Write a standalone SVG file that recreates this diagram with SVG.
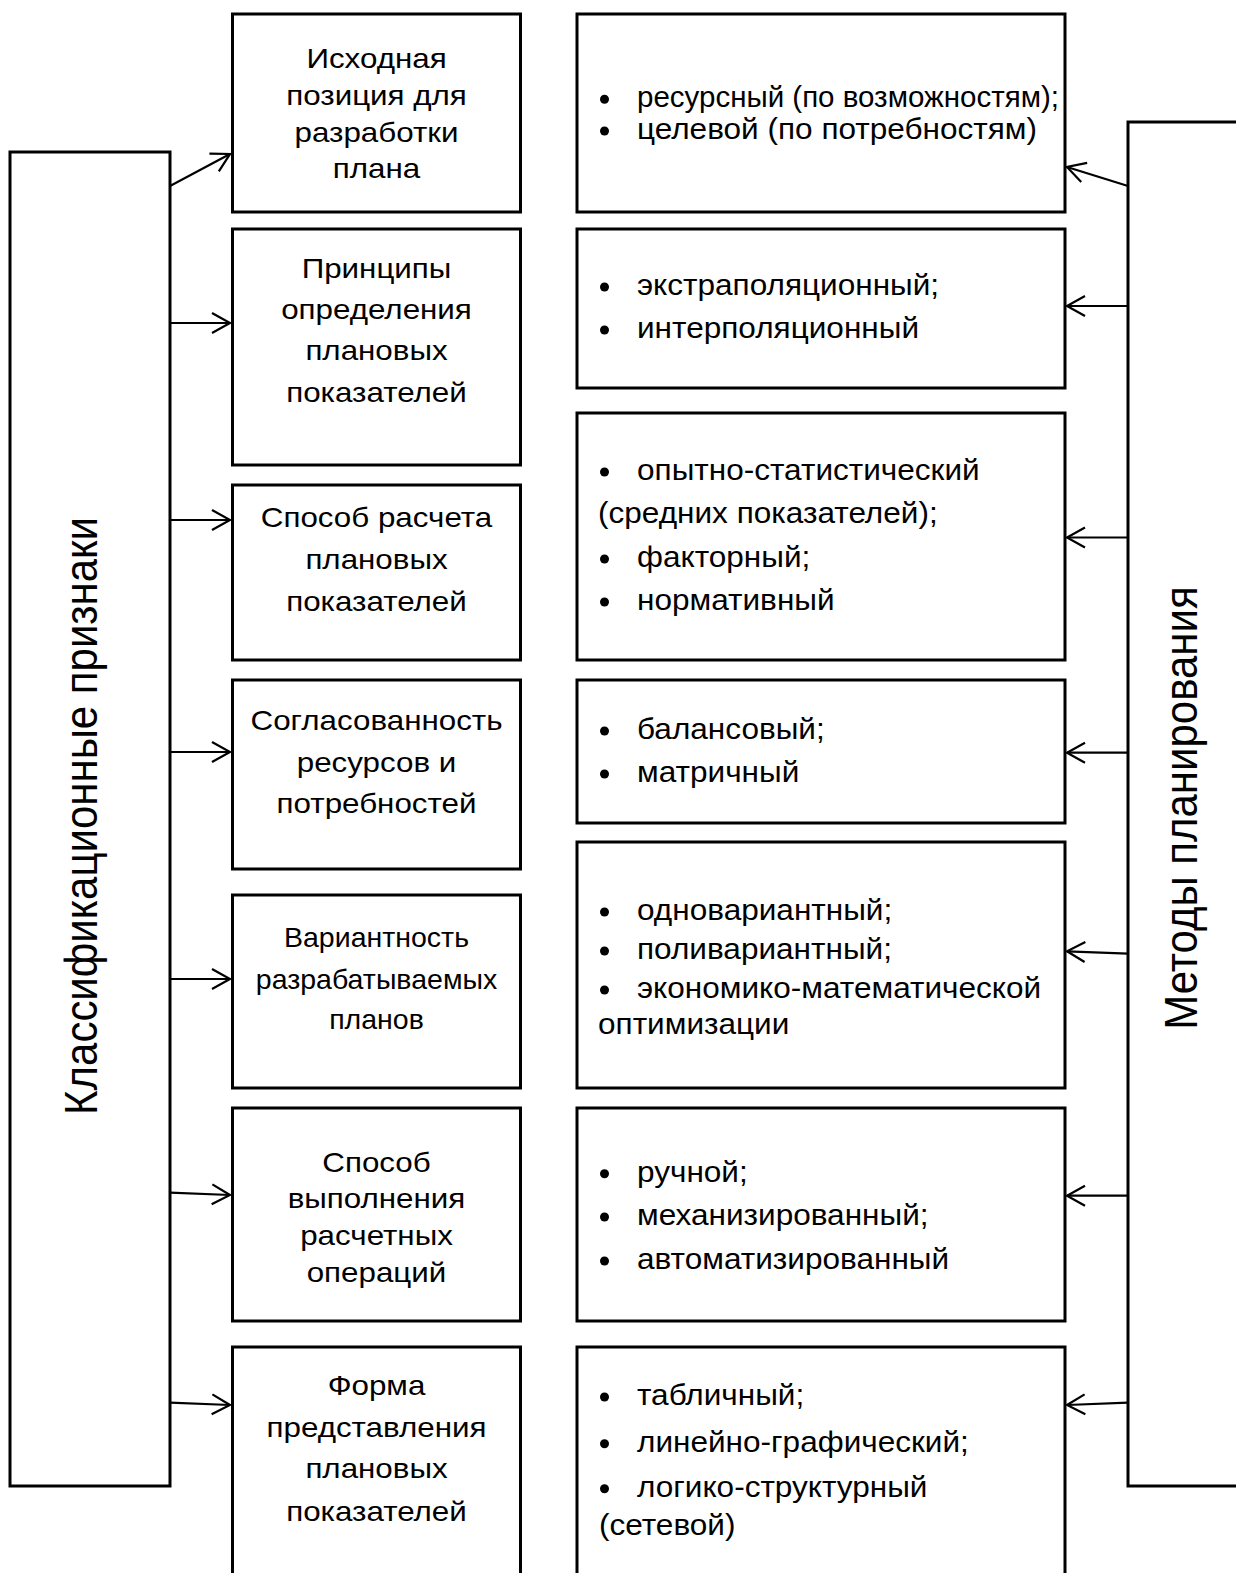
<svg xmlns="http://www.w3.org/2000/svg" width="1236" height="1573" viewBox="0 0 1236 1573">
<style>
.box{fill:#fff;stroke:#000;stroke-width:3}
.l{font-family:"Liberation Sans",Arial,sans-serif;font-size:28.5px;text-anchor:middle;fill:#000}
.r{font-family:"Liberation Sans",Arial,sans-serif;font-size:29.5px;fill:#000}
.dot{fill:#000}
.v{font-family:"Liberation Sans",Arial,sans-serif;font-size:42px;text-anchor:middle;fill:#000}
.c{fill:none;stroke:#000;stroke-width:2.2}
</style>
<defs>
<marker id="ah" markerUnits="userSpaceOnUse" markerWidth="30" markerHeight="30" refX="20" refY="12" orient="auto">
<path d="M2,2 L20,12 L2,22" fill="none" stroke="#000" stroke-width="2.2"/>
</marker>
</defs>
<rect width="1236" height="1573" fill="#fff"/>

<g id="classification">
<rect class="box" x="10" y="152" width="160" height="1334"/>
<text class="v" transform="translate(97,816) scale(1.1,1) rotate(-90)">Классификационные признаки</text>
</g>
<g id="methods">
<rect class="box" x="1128" y="122" width="130" height="1364"/>
<text class="v" transform="translate(1197,808) scale(1.1,1) rotate(-90)">Методы планирования</text>
</g>

<g id="l1">
<rect class="box" x="232.5" y="14" width="288" height="198"/>
<text class="l" transform="translate(376.5,68) scale(1.1,1)">Исходная</text>
<text class="l" transform="translate(376.5,105) scale(1.1,1)">позиция для</text>
<text class="l" transform="translate(376.5,141.5) scale(1.1,1)">разработки</text>
<text class="l" transform="translate(376.5,178) scale(1.1,1)">плана</text>
</g>
<g id="l2">
<rect class="box" x="232.5" y="229" width="288" height="236"/>
<text class="l" transform="translate(376.5,277.7) scale(1.1,1)">Принципы</text>
<text class="l" transform="translate(376.5,318.5) scale(1.1,1)">определения</text>
<text class="l" transform="translate(376.5,360) scale(1.1,1)">плановых</text>
<text class="l" transform="translate(376.5,401.7) scale(1.1,1)">показателей</text>
</g>
<g id="l3">
<rect class="box" x="232.5" y="485" width="288" height="175"/>
<text class="l" transform="translate(376.5,526.5) scale(1.1,1)">Способ расчета</text>
<text class="l" transform="translate(376.5,569) scale(1.1,1)">плановых</text>
<text class="l" transform="translate(376.5,611) scale(1.1,1)">показателей</text>
</g>
<g id="l4">
<rect class="box" x="232.5" y="680" width="288" height="189"/>
<text class="l" transform="translate(376.5,729.5) scale(1.1,1)">Согласованность</text>
<text class="l" transform="translate(376.5,772) scale(1.1,1)">ресурсов и</text>
<text class="l" transform="translate(376.5,813) scale(1.1,1)">потребностей</text>
</g>
<g id="l5">
<rect class="box" x="232.5" y="895" width="288" height="193"/>
<text class="l" transform="translate(376.5,946.5)">Вариантность</text>
<text class="l" transform="translate(376.5,988.5)">разрабатываемых</text>
<text class="l" transform="translate(376.5,1029)">планов</text>
</g>
<g id="l6">
<rect class="box" x="232.5" y="1108" width="288" height="213"/>
<text class="l" transform="translate(376.5,1171.7) scale(1.1,1)">Способ</text>
<text class="l" transform="translate(376.5,1208) scale(1.1,1)">выполнения</text>
<text class="l" transform="translate(376.5,1245) scale(1.1,1)">расчетных</text>
<text class="l" transform="translate(376.5,1281.7) scale(1.1,1)">операций</text>
</g>
<g id="l7">
<rect class="box" x="232.5" y="1347" width="288" height="260"/>
<text class="l" transform="translate(376.5,1395) scale(1.1,1)">Форма</text>
<text class="l" transform="translate(376.5,1436.7) scale(1.1,1)">представления</text>
<text class="l" transform="translate(376.5,1478) scale(1.1,1)">плановых</text>
<text class="l" transform="translate(376.5,1520.7) scale(1.1,1)">показателей</text>
</g>

<g id="r1">
<rect class="box" x="577" y="14" width="488" height="198"/>
<circle class="dot" cx="604.5" cy="99.3" r="4.5"/>
<text class="r" transform="translate(637,107.3)">ресурсный (по возможностям);</text>
<circle class="dot" cx="604.5" cy="131" r="4.5"/>
<text class="r" transform="translate(637,139) scale(1.07,1)">целевой (по потребностям)</text>
</g>
<g id="r2">
<rect class="box" x="577" y="229" width="488" height="159"/>
<circle class="dot" cx="604.5" cy="287" r="4.5"/>
<text class="r" transform="translate(637,295) scale(1.07,1)">экстраполяционный;</text>
<circle class="dot" cx="604.5" cy="330" r="4.5"/>
<text class="r" transform="translate(637,338) scale(1.07,1)">интерполяционный</text>
</g>
<g id="r3">
<rect class="box" x="577" y="413" width="488" height="247"/>
<circle class="dot" cx="604.5" cy="472" r="4.5"/>
<text class="r" transform="translate(637,480) scale(1.07,1)">опытно-статистический</text>
<text class="r" transform="translate(598,523) scale(1.07,1)">(средних показателей);</text>
<circle class="dot" cx="604.5" cy="559" r="4.5"/>
<text class="r" transform="translate(637,567) scale(1.07,1)">факторный;</text>
<circle class="dot" cx="604.5" cy="602" r="4.5"/>
<text class="r" transform="translate(637,610) scale(1.07,1)">нормативный</text>
</g>
<g id="r4">
<rect class="box" x="577" y="680" width="488" height="143"/>
<circle class="dot" cx="604.5" cy="731" r="4.5"/>
<text class="r" transform="translate(637,739) scale(1.07,1)">балансовый;</text>
<circle class="dot" cx="604.5" cy="774" r="4.5"/>
<text class="r" transform="translate(637,782) scale(1.07,1)">матричный</text>
</g>
<g id="r5">
<rect class="box" x="577" y="842" width="488" height="246"/>
<circle class="dot" cx="604.5" cy="912" r="4.5"/>
<text class="r" transform="translate(637,920) scale(1.07,1)">одновариантный;</text>
<circle class="dot" cx="604.5" cy="951" r="4.5"/>
<text class="r" transform="translate(637,959) scale(1.07,1)">поливариантный;</text>
<circle class="dot" cx="604.5" cy="990" r="4.5"/>
<text class="r" transform="translate(637,998) scale(1.07,1)">экономико-математической</text>
<text class="r" transform="translate(598,1034) scale(1.07,1)">оптимизации</text>
</g>
<g id="r6">
<rect class="box" x="577" y="1108" width="488" height="213"/>
<circle class="dot" cx="604.5" cy="1173.7" r="4.5"/>
<text class="r" transform="translate(637,1181.7) scale(1.07,1)">ручной;</text>
<circle class="dot" cx="604.5" cy="1217" r="4.5"/>
<text class="r" transform="translate(637,1225) scale(1.07,1)">механизированный;</text>
<circle class="dot" cx="604.5" cy="1261" r="4.5"/>
<text class="r" transform="translate(637,1269) scale(1.07,1)">автоматизированный</text>
</g>
<g id="r7">
<rect class="box" x="577" y="1347" width="488" height="260"/>
<circle class="dot" cx="604.5" cy="1397" r="4.5"/>
<text class="r" transform="translate(637,1405) scale(1.07,1)">табличный;</text>
<circle class="dot" cx="604.5" cy="1443.7" r="4.5"/>
<text class="r" transform="translate(637,1451.7) scale(1.07,1)">линейно-графический;</text>
<circle class="dot" cx="604.5" cy="1488.7" r="4.5"/>
<text class="r" transform="translate(637,1496.7) scale(1.07,1)">логико-структурный</text>
<text class="r" transform="translate(599,1535) scale(1.07,1)">(сетевой)</text>
</g>

<g id="connectors">
<line class="c" x1="170" y1="186" x2="230" y2="154" marker-end="url(#ah)"/>
<line class="c" x1="170" y1="323" x2="230" y2="323" marker-end="url(#ah)"/>
<line class="c" x1="170" y1="520" x2="230" y2="520" marker-end="url(#ah)"/>
<line class="c" x1="170" y1="752" x2="230" y2="752" marker-end="url(#ah)"/>
<line class="c" x1="170" y1="979" x2="230" y2="979" marker-end="url(#ah)"/>
<line class="c" x1="170" y1="1192.7" x2="230" y2="1195" marker-end="url(#ah)"/>
<line class="c" x1="170" y1="1402.7" x2="230" y2="1405" marker-end="url(#ah)"/>
<line class="c" x1="1128" y1="186" x2="1067" y2="167" marker-end="url(#ah)"/>
<line class="c" x1="1128" y1="306" x2="1067" y2="306" marker-end="url(#ah)"/>
<line class="c" x1="1128" y1="537.5" x2="1067" y2="537.5" marker-end="url(#ah)"/>
<line class="c" x1="1128" y1="752.7" x2="1067" y2="752.7" marker-end="url(#ah)"/>
<line class="c" x1="1128" y1="953.6" x2="1067" y2="951.3" marker-end="url(#ah)"/>
<line class="c" x1="1128" y1="1195.7" x2="1067" y2="1195.7" marker-end="url(#ah)"/>
<line class="c" x1="1128" y1="1402.7" x2="1067" y2="1405" marker-end="url(#ah)"/>
</g>
</svg>
